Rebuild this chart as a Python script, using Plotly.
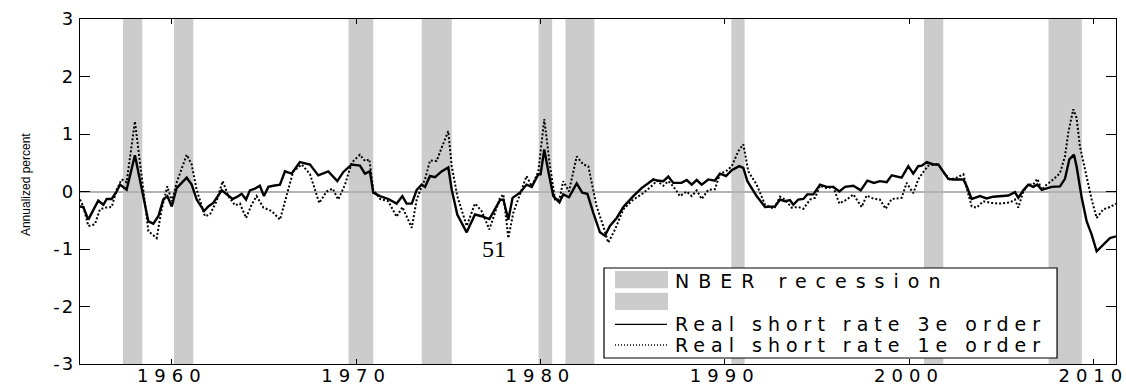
import plotly.graph_objects as go

# ---------------- data ----------------
years_3e = [1955.02, 1955.20, 1955.47, 1956.01, 1956.29, 1956.47, 1956.74, 1957.01, 1957.19, 1957.55,
            1958.00, 1958.37, 1958.73, 1959.00, 1959.27, 1959.54, 1959.76, 1960.00, 1960.26, 1960.81,
            1961.08, 1961.35, 1961.75, 1961.98, 1962.25, 1962.71, 1962.98, 1963.30, 1963.56, 1963.79,
            1964.03, 1964.24, 1964.51, 1964.78, 1965.00, 1965.24, 1965.51, 1965.87, 1966.14, 1966.50,
            1966.95, 1967.50, 1967.95, 1968.49, 1968.98, 1969.31, 1969.76, 1970.21, 1970.48, 1970.75,
            1970.93, 1971.30, 1971.75, 1972.20, 1972.51, 1972.74, 1973.02, 1973.29, 1973.56, 1973.74,
            1974.01, 1974.28, 1974.64, 1975.00, 1975.19, 1975.49, 1976.00, 1976.45, 1976.81, 1977.23,
            1977.81, 1977.99, 1978.26, 1978.49, 1978.89, 1979.25, 1979.53, 1979.89, 1980.01, 1980.21,
            1980.43, 1980.70, 1981.03, 1981.24, 1981.55, 1981.97, 1982.27, 1982.55, 1982.87, 1983.23,
            1983.50, 1983.77, 1984.14, 1984.50, 1985.04, 1985.49, 1986.13, 1986.31, 1986.67, 1986.94,
            1987.21, 1987.66, 1987.94, 1988.21, 1988.48, 1988.75, 1989.11, 1989.47, 1989.74, 1990.07,
            1990.38, 1990.79, 1991.01, 1991.23, 1991.73, 1992.19, 1992.73, 1993.00, 1993.27, 1993.54,
            1993.72, 1993.99, 1994.27, 1994.48, 1994.81, 1995.17, 1995.53, 1995.89, 1996.22, 1996.53,
            1996.98, 1997.38, 1997.74, 1998.10, 1998.42, 1998.79, 1999.06, 1999.60, 1999.96, 2000.23,
            2000.50, 2000.69, 2000.96, 2001.32, 2001.59, 2001.86, 2002.13, 2002.40, 2002.95, 2003.13,
            2003.40, 2003.85, 2004.21, 2004.57, 2004.94, 2005.39, 2005.75, 2005.93, 2006.20, 2006.47,
            2006.74, 2006.96, 2007.20, 2007.47, 2007.74, 2008.19, 2008.46, 2008.70, 2008.95, 2009.09,
            2009.37, 2009.64, 2009.91, 2010.18, 2010.54, 2010.90, 2011.23]
rate_3e = [-0.26, -0.27, -0.49, -0.16, -0.23, -0.13, -0.13, 0.00, 0.12, 0.03,
           0.63, 0.03, -0.52, -0.56, -0.43, -0.14, -0.08, -0.26, 0.06, 0.24,
           0.12, -0.14, -0.34, -0.26, -0.20, 0.02, -0.05, -0.13, -0.09, -0.04,
           -0.14, 0.02, 0.05, 0.10, -0.08, 0.08, 0.10, 0.12, 0.35, 0.31,
           0.51, 0.47, 0.28, 0.35, 0.18, 0.34, 0.47, 0.45, 0.31, 0.35,
           -0.02, -0.08, -0.13, -0.21, -0.08, -0.21, -0.21, 0.03, 0.12, 0.08,
           0.27, 0.25, 0.35, 0.42, 0.03, -0.40, -0.71, -0.40, -0.43, -0.48,
           -0.15, -0.14, -0.49, -0.11, -0.02, 0.12, 0.08, 0.30, 0.30, 0.73,
           0.35, -0.08, -0.19, -0.05, -0.10, 0.14, -0.02, -0.04, -0.37, -0.71,
           -0.77, -0.60, -0.46, -0.27, -0.08, 0.06, 0.21, 0.19, 0.18, 0.26,
           0.15, 0.15, 0.20, 0.12, 0.20, 0.12, 0.21, 0.19, 0.31, 0.27,
           0.37, 0.44, 0.41, 0.18, -0.08, -0.27, -0.26, -0.14, -0.17, -0.15,
           -0.23, -0.14, -0.13, -0.05, -0.05, 0.12, 0.08, 0.08, 0.00, 0.08,
           0.10, 0.02, 0.19, 0.15, 0.18, 0.16, 0.28, 0.24, 0.44, 0.31,
           0.44, 0.45, 0.51, 0.47, 0.47, 0.35, 0.22, 0.21, 0.21, 0.09,
           -0.13, -0.08, -0.12, -0.09, -0.08, -0.07, -0.01, -0.11, 0.02, 0.12,
           0.08, 0.12, 0.03, 0.05, 0.08, 0.09, 0.22, 0.56, 0.64, 0.44,
           -0.11, -0.52, -0.75, -1.04, -0.92, -0.81, -0.78]

years_1e = [1955.02, 1955.20, 1955.47, 1955.83, 1956.10, 1956.38, 1956.74, 1957.01, 1957.28, 1957.55,
            1958.00, 1958.37, 1958.73, 1959.18, 1959.45, 1959.76, 1960.00, 1960.26, 1960.81, 1961.08,
            1961.35, 1961.80, 1962.07, 1962.43, 1962.76, 1963.07, 1963.43, 1963.70, 1964.03, 1964.33,
            1964.60, 1964.97, 1965.42, 1965.87, 1966.23, 1966.59, 1967.05, 1967.50, 1968.00, 1968.40,
            1968.73, 1969.03, 1969.40, 1969.76, 1970.21, 1970.48, 1970.72, 1970.93, 1971.30, 1971.75,
            1972.20, 1972.51, 1973.02, 1973.29, 1973.56, 1973.74, 1974.01, 1974.37, 1974.64, 1975.00,
            1975.19, 1975.49, 1976.00, 1976.45, 1976.81, 1977.23, 1977.81, 1977.99, 1978.26, 1978.53,
            1978.89, 1979.25, 1979.53, 1979.89, 1980.21, 1980.52, 1980.79, 1981.03, 1981.24, 1981.55,
            1981.97, 1982.33, 1982.60, 1983.05, 1983.41, 1983.68, 1984.05, 1984.50, 1985.04, 1985.49,
            1986.13, 1986.31, 1986.67, 1986.94, 1987.21, 1987.57, 1987.94, 1988.21, 1988.48, 1988.75,
            1989.11, 1989.47, 1989.74, 1990.07, 1990.38, 1990.74, 1991.01, 1991.28, 1991.73, 1992.19,
            1992.67, 1993.00, 1993.27, 1993.63, 1993.99, 1994.27, 1994.63, 1994.90, 1995.17, 1995.53,
            1995.89, 1996.22, 1996.62, 1996.98, 1997.43, 1997.70, 1998.10, 1998.42, 1998.73, 1999.06,
            1999.60, 1999.87, 2000.23, 2000.50, 2000.78, 2001.05, 2001.32, 2001.59, 2001.86, 2002.22,
            2002.58, 2002.95, 2003.13, 2003.40, 2003.67, 2004.03, 2004.48, 2004.94, 2005.48, 2005.75,
            2005.93, 2006.20, 2006.47, 2006.74, 2006.96, 2007.20, 2007.47, 2007.83, 2008.19, 2008.46,
            2008.64, 2008.91, 2009.09, 2009.27, 2009.55, 2009.91, 2010.18, 2010.54, 2010.90, 2011.23]
rate_1e = [-0.14, -0.26, -0.60, -0.57, -0.31, -0.28, -0.27, 0.03, 0.21, 0.16,
           1.22, 0.27, -0.69, -0.81, -0.31, 0.09, -0.17, 0.15, 0.64, 0.47,
           0.03, -0.43, -0.40, -0.17, 0.18, -0.08, -0.24, -0.21, -0.46, -0.23,
           -0.08, -0.28, -0.34, -0.49, -0.05, 0.35, 0.47, 0.30, -0.20, 0.00,
           0.05, -0.14, 0.12, 0.50, 0.64, 0.53, 0.56, 0.03, -0.13, -0.17,
           -0.44, -0.27, -0.63, -0.14, 0.09, 0.21, 0.54, 0.53, 0.76, 1.05,
           0.44, -0.08, -0.60, -0.21, -0.34, -0.66, -0.11, -0.05, -0.81, -0.37,
           -0.05, 0.27, 0.09, 0.35, 1.26, 0.44, -0.14, -0.14, 0.18, 0.00,
           0.61, 0.47, 0.44, -0.26, -0.60, -0.89, -0.66, -0.31, -0.14, -0.05,
           0.12, 0.19, 0.10, 0.18, 0.09, -0.08, 0.00, -0.08, 0.02, -0.13,
           0.03, 0.04, 0.31, 0.35, 0.44, 0.70, 0.82, 0.35, 0.12, -0.23,
           -0.30, -0.09, -0.14, -0.28, -0.27, -0.30, -0.14, -0.11, 0.10, 0.06,
           0.08, -0.21, -0.14, -0.05, -0.27, -0.07, -0.13, -0.14, -0.30, -0.13,
           -0.11, 0.15, -0.03, 0.21, 0.34, 0.45, 0.47, 0.47, 0.34, 0.21,
           0.24, 0.30, 0.06, -0.26, -0.28, -0.17, -0.20, -0.21, -0.19, -0.14,
           -0.28, 0.00, 0.12, 0.12, 0.22, 0.03, 0.12, 0.21, 0.32, 0.61,
           1.02, 1.43, 1.28, 0.79, 0.38, -0.14, -0.46, -0.31, -0.27, -0.21]

rec_start = [1957.35, 1960.12, 1969.59, 1973.56, 1979.90, 1981.36, 1990.36, 2000.81, 2007.57]
rec_end = [1958.40, 1961.17, 1970.93, 1975.19, 1980.64, 1982.93, 1991.08, 2001.86, 2009.38]

x_ticks = [1960, 1970, 1980, 1990, 2000, 2010]
y_ticks = [-3, -2, -1, 0, 1, 2, 3]
y_tick_text = ["-3", "-2", "-1", "0", "1", "2", "3"]

legend_labels = ["NBER recession", "", "Real short rate 3e order", "Real short rate 1e order"]
y_title = "Annualized percent"
note_text = "51"
note_x, note_y = 1977.5, -1.0

# ---------------- figure ----------------
GRAY = "#cccccc"
FONT = "DejaVu Sans"

def spaced(t, px):
    return f'<span style="letter-spacing:{px}px">{t}</span>'

fig = go.Figure()

fig.add_trace(go.Scatter(x=years_3e, y=rate_3e, mode="lines", name=legend_labels[2],
                         line=dict(color="black", width=2.4), showlegend=False))
fig.add_trace(go.Scatter(x=years_1e, y=rate_1e, mode="lines", name=legend_labels[3],
                         line=dict(color="black", width=2.0, dash="2px,2px"), showlegend=False))

shapes = []
for s, e in zip(rec_start, rec_end):
    shapes.append(dict(type="rect", xref="x", yref="paper", x0=s, x1=e, y0=0, y1=1,
                       fillcolor=GRAY, line=dict(width=0), layer="below"))

# custom legend (paper coordinates)
LX0, LX1, LY0, LY1 = 0.5058, 0.9431, 0.0174, 0.2783
shapes.append(dict(type="rect", xref="paper", yref="paper", x0=LX0, x1=LX1, y0=LY0, y1=LY1,
                   fillcolor="white", line=dict(color="black", width=1.2), layer="above"))
shapes.append(dict(type="rect", xref="paper", yref="paper", x0=0.5164, x1=0.5676, y0=0.2194, y1=0.2696,
                   fillcolor=GRAY, line=dict(width=0), layer="above"))
shapes.append(dict(type="rect", xref="paper", yref="paper", x0=0.5164, x1=0.5676, y0=0.1565, y1=0.2067,
                   fillcolor=GRAY, line=dict(width=0), layer="above"))
shapes.append(dict(type="line", xref="paper", yref="paper", x0=0.5164, x1=0.5666, y0=0.1151, y1=0.1151,
                   line=dict(color="black", width=1.3), layer="above"))
shapes.append(dict(type="line", xref="paper", yref="paper", x0=0.5164, x1=0.5666, y0=0.0551, y1=0.0551,
                   line=dict(color="black", width=1.3, dash="1px,2px"), layer="above"))

annotations = []
for lab, yy, sp in zip([legend_labels[0], legend_labels[2], legend_labels[3]],
                       [0.2406, 0.1159, 0.0551], [9, 6, 6]):
    annotations.append(dict(text=spaced(lab, sp), xref="paper", yref="paper", x=0.5724, y=yy,
                            xanchor="left", yanchor="middle", showarrow=False,
                            font=dict(family=FONT, size=19, color="black")))
annotations.append(dict(text=y_title, xref="paper", yref="paper", x=-0.052, y=0.519,
                        textangle=-90, showarrow=False, xanchor="center", yanchor="middle",
                        font=dict(family="Liberation Sans Narrow, Liberation Sans", size=12, color="black")))
annotations.append(dict(text=note_text, xref="x", yref="y", x=note_x, y=note_y, showarrow=False,
                        xanchor="center", yanchor="middle",
                        font=dict(family="Liberation Serif", size=24, color="black")))

fig.update_layout(
    width=1126, height=385,
    margin=dict(l=80, r=10, t=19, b=21, pad=0, autoexpand=False),
    paper_bgcolor="white", plot_bgcolor="white",
    shapes=shapes, annotations=annotations, showlegend=False,
    xaxis=dict(range=[1955.02, 2011.23], tickvals=x_ticks, automargin=False,
               ticktext=[spaced(str(v), 6) for v in x_ticks],
               ticks="inside", ticklen=5, tickwidth=1.2, tickcolor="black",
               ticklabelstandoff=-5, ticklabeloverflow="allow",
               showline=True, linecolor="black", linewidth=1.3, mirror="ticks",
               showgrid=False, zeroline=False,
               tickfont=dict(family=FONT, size=18, color="black")),
    yaxis=dict(range=[-3, 3], tickvals=y_ticks, automargin=False,
               ticktext=[spaced(t, 2) for t in y_tick_text],
               ticks="inside", ticklen=10, tickwidth=1.2, tickcolor="black",
               ticklabeloverflow="allow",
               showline=True, linecolor="black", linewidth=1.3, mirror="ticks",
               showgrid=False, zeroline=True, zerolinecolor="#b3b3b3", zerolinewidth=1.6,
               tickfont=dict(family=FONT, size=18, color="black")),
)

fig.write_html("out.html")
